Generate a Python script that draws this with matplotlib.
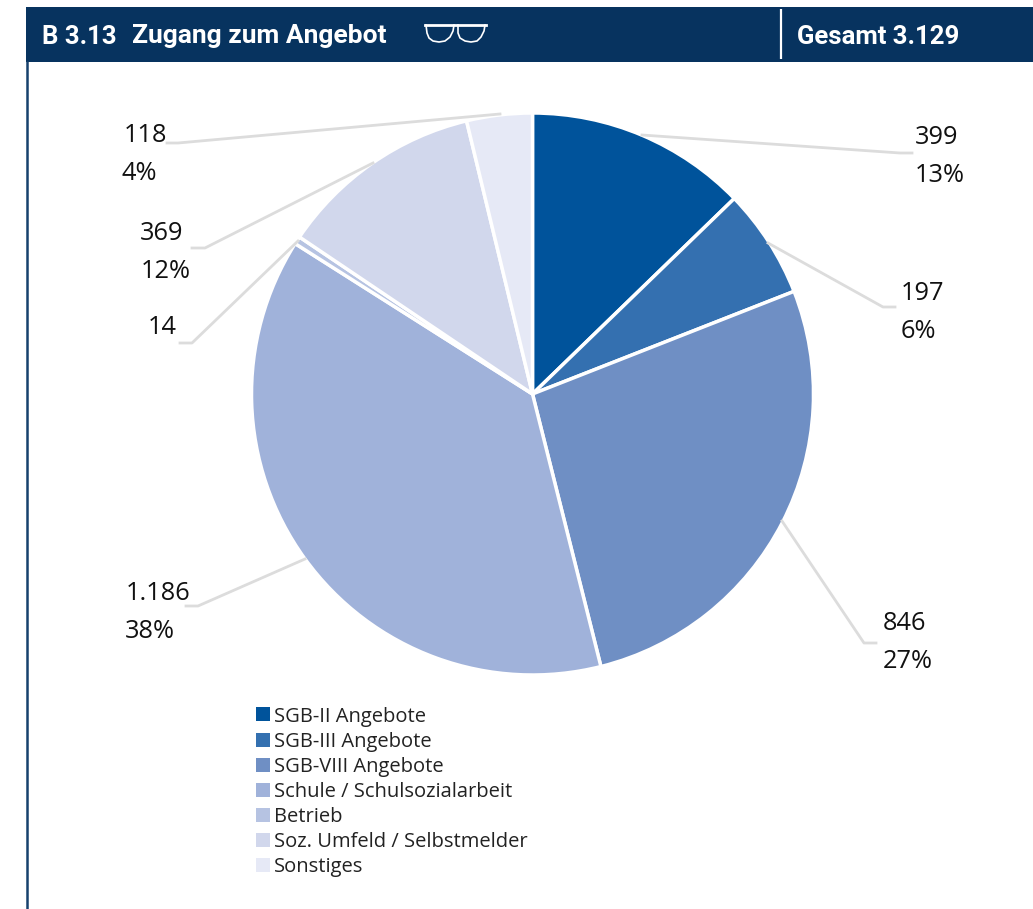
import matplotlib
matplotlib.use('Agg')
import matplotlib.pyplot as plt
from matplotlib.patches import Rectangle
from matplotlib.lines import Line2D

categories = ['SGB-II Angebote', 'SGB-III Angebote', 'SGB-VIII Angebote',
              'Schule / Schulsozialarbeit', 'Betrieb',
              'Soz. Umfeld / Selbstmelder', 'Sonstiges']
values = [399, 197, 846, 1186, 14, 369, 118]
count_labels = ['399', '197', '846', '1.186', '14', '369', '118']
percent_labels = ['13%', '6%', '27%', '38%', '', '12%', '4%']
colors = ['#00539b', '#3470b0', '#6f8fc4', '#a0b2da', '#b6c3e2', '#d1d7ec', '#e6e9f6']

W, H = 1033, 909
plt.rcParams['font.family'] = ['Open Sans', 'DejaVu Sans']
fig = plt.figure(figsize=(W / 100, H / 100), dpi=100)

# pixel overlay for the frame, header and labels
bg = fig.add_axes([0, 0, 1, 1])
bg.set_xlim(0, W)
bg.set_ylim(H, 0)
bg.axis('off')

navy = '#07335f'
bg.add_patch(Rectangle((26, 7), W - 26, 55, color=navy, lw=0))
bg.plot([26.5, 26.5], [61, H], color='#17416d', lw=1.8, solid_capstyle='butt')
bg.plot([780.5, 780.5], [9, 59], color='white', lw=1.6, solid_capstyle='butt')

head = dict(color='white', fontweight='bold', family='Roboto', va='center')
bg.text(42, 36.5, 'B 3.13', fontsize=18.5, **head)
bg.text(132, 36.5, 'Zugang zum Angebot', fontsize=19, **head)
bg.text(797, 36.5, 'Gesamt 3.129', fontsize=18.5, **head)

# glasses icon
for x in ([426, 427, 429, 433, 439, 445, 450, 453, 454],
          [458, 458, 460, 465, 471, 477, 481, 484, 485]):
    y = [25, 33, 38, 41, 42, 41, 37, 31, 25]
    bg.plot(x, y, color='white', lw=1.2)
bg.plot([425, 486], [24.5, 24.5], color='white', lw=2)

# pie
cx, cy, r = 532.5, 394, 281
ax = fig.add_axes([(cx - r) / W, 1 - (cy + r) / H, 2 * r / W, 2 * r / H])
wedges, _ = ax.pie(values, colors=colors, startangle=90, counterclock=False, radius=1,
                   wedgeprops=dict(edgecolor='white', linewidth=2.5))
ax.set_xlim(-1, 1)
ax.set_ylim(-1, 1)
for w in wedges:
    w.set_clip_on(False)

# leader lines, top layer in pixel coords
top = fig.add_axes([0, 0, 1, 1], facecolor='none')
top.set_xlim(0, W)
top.set_ylim(H, 0)
top.axis('off')
leaders = [
    ([642, 900, 912], [135, 153, 153]),
    ([768, 883, 895], [243, 307, 307]),
    ([782, 864, 876], [521, 643, 643]),
    ([305, 198, 186], [559, 606, 606]),
    ([298, 192, 180], [241, 343, 343]),
    ([373, 205, 192], [163, 248, 248]),
    ([500, 178, 167], [114, 143, 143]),
]
for lx, ly in leaders:
    top.plot(lx, ly, color='#dcdcdc', lw=2)

# count and percent label positions in pixels
count_xy = [(915, 138), (901, 293), (883, 623), (126, 593), (148, 328), (140, 234), (124, 136)]
pct_xy = [(915, 175), (901, 331), (883, 661), (125, 631), None, (141, 272), (122, 173)]
for i, c in enumerate(count_labels):
    top.text(count_xy[i][0], count_xy[i][1], c, fontsize=18.3, color='#111111', va='center')
    if pct_xy[i]:
        top.text(pct_xy[i][0], pct_xy[i][1], percent_labels[i], fontsize=18.3, color='#111111', va='center')

handles = [Line2D([], [], marker='s', ls='', color=c, ms=9.5, mew=0) for c in colors]
top.legend(handles, categories, loc='upper left', bbox_to_anchor=(252 / W, 1 - 702.5 / H),
           bbox_transform=fig.transFigure, frameon=False, fontsize=14.5, labelspacing=0.25,
           handletextpad=0.2, handlelength=0.7, borderpad=0.2, borderaxespad=0, labelcolor='#222222')

fig.savefig('out.png', dpi=100)
